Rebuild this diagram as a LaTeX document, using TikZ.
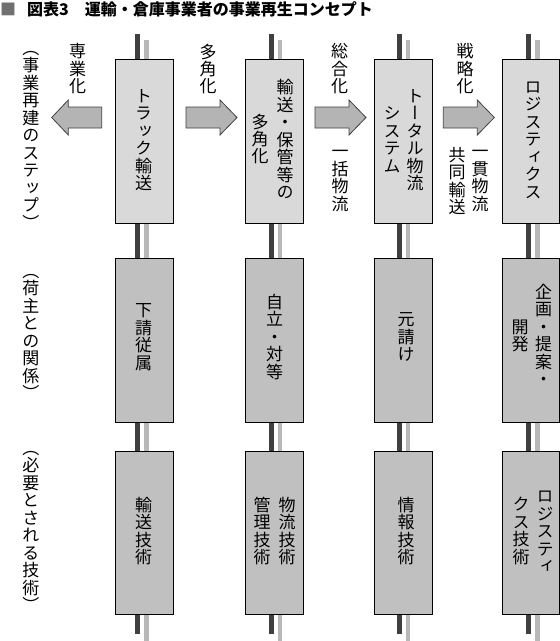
\documentclass[tikz,border=0pt]{standalone}
\usepackage{fontspec}
\setmainfont{Noto Sans CJK JP}
\newfontfamily\vjp[RawFeature=+vert]{Noto Sans CJK JP}
\definecolor{topfill}{HTML}{D9D9D9}
\definecolor{lowfill}{HTML}{C0C0C0}
\definecolor{arrfill}{HTML}{B4B4B4}
\definecolor{arrline}{HTML}{404040}
\definecolor{darkbar}{HTML}{404040}
\definecolor{lightbar}{HTML}{B8B8B8}
\definecolor{titlesq}{HTML}{707070}
\begin{document}
\begin{tikzpicture}[x=1pt,y=-1pt,
  vtext/.style={font=\vjp\fontsize{17}{17.5}\selectfont, align=center, inner sep=0pt, text=black},
  topbox/.style={draw=black, line width=0.8pt, fill=topfill, minimum width=58pt, minimum height=164pt, inner sep=0pt},
  lowbox/.style={draw=black, line width=0.8pt, fill=lowfill, minimum width=58pt, minimum height=164pt, inner sep=0pt},
  arrowstyle/.style={draw=arrline, line width=0.8pt, fill=arrfill, line join=miter},
  rarrow/.pic={\draw[arrowstyle] (0,-10.5) -- (34,-10.5) -- (34,-17.5) -- (51,0) -- (34,17.5) -- (34,10.5) -- (0,10.5) -- cycle;},
  larrow/.pic={\draw[arrowstyle] (0,0) -- (16.6,-17.5) -- (16.6,-10.5) -- (50,-10.5) -- (50,10.5) -- (16.6,10.5) -- (16.6,17.5) -- cycle;}
]
\useasboundingbox (0,0) rectangle (560,641);

% title
\node[anchor=west, inner sep=0pt, font=\bfseries\fontsize{16}{18}\selectfont] (title) at (0,9)
  {\textcolor{titlesq}{■}\hspace{11pt}図表3　運輸・倉庫事業者の事業再生コンセプト};

% vertical bars (behind boxes)
\fill[darkbar] (135,34) rectangle (140,634);
\fill[lightbar] (144,40) rectangle (149,641);
\fill[darkbar] (269,34) rectangle (274,634);
\fill[lightbar] (277.5,40) rectangle (282,641);
\fill[darkbar] (397,34) rectangle (402,634);
\fill[lightbar] (405.5,40) rectangle (410,641);
\fill[darkbar] (526,34) rectangle (531,634);
\fill[lightbar] (535,40) rectangle (540,641);

% boxes
\node[topbox] (b11) at (144.5,141) {};
\node[topbox] (b12) at (274.8,141) {};
\node[topbox] (b13) at (403.3,141) {};
\node[topbox, minimum width=57pt] (b14) at (531,141) {};
\node[lowbox] (b21) at (144.5,340) {};
\node[lowbox] (b22) at (274.8,340) {};
\node[lowbox] (b23) at (403.3,340) {};
\node[lowbox, minimum width=57pt] (b24) at (531,340) {};
\node[lowbox, minimum height=163pt] (b31) at (144.5,532.5) {};
\node[lowbox, minimum height=163pt] (b32) at (274.8,532.5) {};
\node[lowbox, minimum height=163pt] (b33) at (403.3,532.5) {};
\node[lowbox, minimum height=163pt, minimum width=57pt] (b34) at (531,532.5) {};

% block arrows
\pic at (51.7,117.5) {larrow};
\pic at (186,117.5) {rarrow};
\pic at (315,117.5) {rarrow};
\pic at (443.3,117.5) {rarrow};

% left row labels
\node[vtext] (l1) at (31,140) {（\\事\\業\\再\\建\\の\\ス\\テ\\ッ\\プ\\）};
\node[vtext] (l2) at (31,337) {（\\荷\\主\\と\\の\\関\\係\\）};
\node[vtext] (l3) at (31,531.5) {（\\必\\要\\と\\さ\\れ\\る\\技\\術\\）};

% arrow labels
\node[vtext] (a1) at (77.5,69) {専\\業\\化};
\node[vtext] (a2) at (208,69) {多\\角\\化};
\node[vtext] (a3) at (339.5,69) {総\\合\\化};
\node[vtext] (a4) at (465,69) {戦\\略\\化};
\node[vtext] (a3b) at (340,181) {一\\括\\物\\流};
\node[vtext] (a4b) at (480,181) {一\\貫\\物\\流};
\node[vtext] (a4c) at (457,181) {共\\同\\輸\\送};

% row 1 texts
\node[vtext] (t11) at (143.5,140) {ト\\ラ\\ッ\\ク\\輸\\送};
\node[vtext] (t12a) at (285,139) {輸\\送\\・\\保\\管\\等\\の};
\node[vtext] (t12b) at (260,139) {多\\角\\化};
\node[vtext] (t13a) at (415,140) {ト\\ー\\タ\\ル\\物\\流};
\node[vtext] (t13b) at (392,140) {シ\\ス\\テ\\ム};
\node[vtext] (t14) at (533,140) {ロ\\ジ\\ス\\テ\\ィ\\ク\\ス};

% row 2 texts
\node[vtext] (t21) at (143.5,337) {下\\請\\従\\属};
\node[vtext] (t22) at (274.5,337) {自\\立\\・\\対\\等};
\node[vtext] (t23) at (406,337) {元\\請\\け};
\node[vtext] (t24a) at (543.5,335) {企\\画\\・\\提\\案\\・};
\node[vtext] (t24b) at (520,336) {開\\発};

% row 3 texts
\node[vtext] (t31) at (143.5,531) {輸\\送\\技\\術};
\node[vtext] (t32a) at (287,531) {物\\流\\技\\術};
\node[vtext] (t32b) at (262,531) {管\\理\\技\\術};
\node[vtext] (t33) at (406,531) {情\\報\\技\\術};
\node[vtext] (t34a) at (545,532) {ロ\\ジ\\ス\\テ\\ィ};
\node[vtext] (t34b) at (521,531) {ク\\ス\\技\\術};
\end{tikzpicture}
\end{document}
